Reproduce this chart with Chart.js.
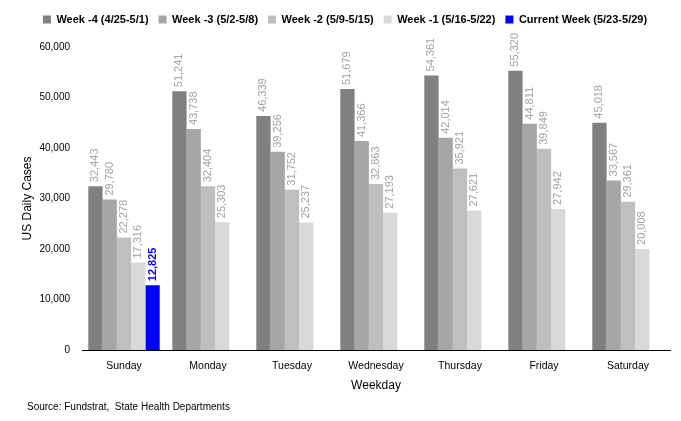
<!DOCTYPE html>
<html>
<head>
<meta charset="utf-8">
<script src="https://cdn.jsdelivr.net/npm/chart.js@4"></script>
<style>
  html, body { margin: 0; padding: 0; background: #fff; }
  #wrap { width: 681px; height: 421px; }
</style>
</head>
<body>
<div id="wrap"><canvas id="cases"></canvas></div>
<script>
var days = ['Sunday', 'Monday', 'Tuesday', 'Wednesday', 'Thursday', 'Friday', 'Saturday'];
// weekly series, one value per weekday
var week4 = [32443, 51241, 46339, 51679, 54361, 55320, 45018];
var week3 = [29780, 43738, 39256, 41366, 42014, 44811, 33567];
var week2 = [22278, 32404, 31752, 32863, 35921, 39849, 29361];
var week1 = [17316, 25303, 25237, 27193, 27621, 27942, 20008];
var currentWeek = [12825, null, null, null, null, null, null];
var yTicks = [0, 10000, 20000, 30000, 40000, 50000, 60000];
var sourceNote = 'Source: Fundstrat,  State Health Departments';

var FONT = '"Liberation Sans Narrow", "Arial Narrow", "Liberation Sans", Arial, sans-serif';

function fmt(v) {
    return v.toLocaleString('en-US');
}

// draws the rotated value above each bar
var barLabels = {
    id: 'barLabels',
    afterDatasetsDraw: function(chart) {
        var ctx = chart.ctx;
        chart.data.datasets.forEach(function(ds, i) {
            var meta = chart.getDatasetMeta(i);
            meta.data.forEach(function(bar, j) {
                var v = ds.data[j];
                if (v === null || v === undefined) return;
                ctx.save();
                ctx.translate(bar.x, bar.y - 4);
                ctx.rotate(-Math.PI / 2);
                ctx.textAlign = 'left';
                ctx.textBaseline = 'middle';
                ctx.fillStyle = ds.labelColor;
                ctx.font = (ds.labelBold ? 'bold ' : '') + '11px ' + FONT;
                ctx.fillText(fmt(v), 0, 0);
                ctx.restore();
            });
        });
    }
};

// source line in the lower left corner
var sourceLine = {
    id: 'sourceLine',
    afterDraw: function(chart) {
        var ctx = chart.ctx;
        ctx.save();
        ctx.fillStyle = '#000';
        ctx.font = '10px ' + FONT;
        ctx.textAlign = 'left';
        ctx.textBaseline = 'middle';
        ctx.fillText(sourceNote, 27, 407);
        ctx.restore();
    }
};

// a bit more room under the legend
var legendGap = {
    id: 'legendGap',
    beforeInit: function(chart) {
        var fit = chart.legend.fit;
        chart.legend.fit = function() {
            fit.bind(chart.legend)();
            this.height += 12;
        };
    }
};

var ctx = document.getElementById('cases');
var chart = new Chart(ctx, {
    type: 'bar',
    data: {
        labels: days,
        datasets: [
            { label: 'Week -4 (4/25-5/1)', data: week4, backgroundColor: '#808080', labelColor: '#a3a3a3' },
            { label: 'Week -3 (5/2-5/8)', data: week3, backgroundColor: '#a6a6a6', labelColor: '#a3a3a3' },
            { label: 'Week -2 (5/9-5/15)', data: week2, backgroundColor: '#bfbfbf', labelColor: '#a3a3a3' },
            { label: 'Week -1 (5/16-5/22)', data: week1, backgroundColor: '#d9d9d9', labelColor: '#a3a3a3' },
            { label: 'Current Week (5/23-5/29)', data: currentWeek, backgroundColor: '#0000ff', labelColor: '#0000ff', labelBold: true }
        ]
    },
    options: {
        responsive: true,
        maintainAspectRatio: false,
        animation: false,
        layout: { padding: { left: 20, right: 11, top: 4, bottom: 28 } },
        datasets: {
            bar: { categoryPercentage: 0.85, barPercentage: 1.0 }
        },
        plugins: {
            legend: {
                position: 'top',
                labels: {
                    boxWidth: 8,
                    boxHeight: 8,
                    padding: 10,
                    color: '#000',
                    font: { family: FONT, size: 11, weight: 'bold' }
                }
            },
            tooltip: { enabled: false }
        },
        scales: {
            x: {
                grid: { display: false, drawTicks: false },
                border: { display: true, color: '#000', width: 1 },
                ticks: { color: '#000', font: { family: FONT, size: 10.5 }, padding: 10 },
                title: { display: true, text: 'Weekday', color: '#000', font: { family: FONT, size: 12 }, padding: { top: -4, bottom: 0 } }
            },
            y: {
                min: 0,
                max: 60000,
                afterFit: function(scale) { scale.width = 62; },
                afterBuildTicks: function(scale) {
                    scale.ticks = yTicks.map(function(v) { return { value: v }; });
                },
                grid: { display: false, drawTicks: false },
                border: { display: false },
                ticks: {
                    color: '#000',
                    padding: 12,
                    font: { family: FONT, size: 10 },
                    callback: function(v) { return fmt(v); }
                },
                title: { display: true, text: 'US Daily Cases', color: '#000', font: { family: FONT, size: 12 }, padding: 0 }
            }
        }
    },
    plugins: [barLabels, sourceLine, legendGap]
});
</script>
</body>
</html>
